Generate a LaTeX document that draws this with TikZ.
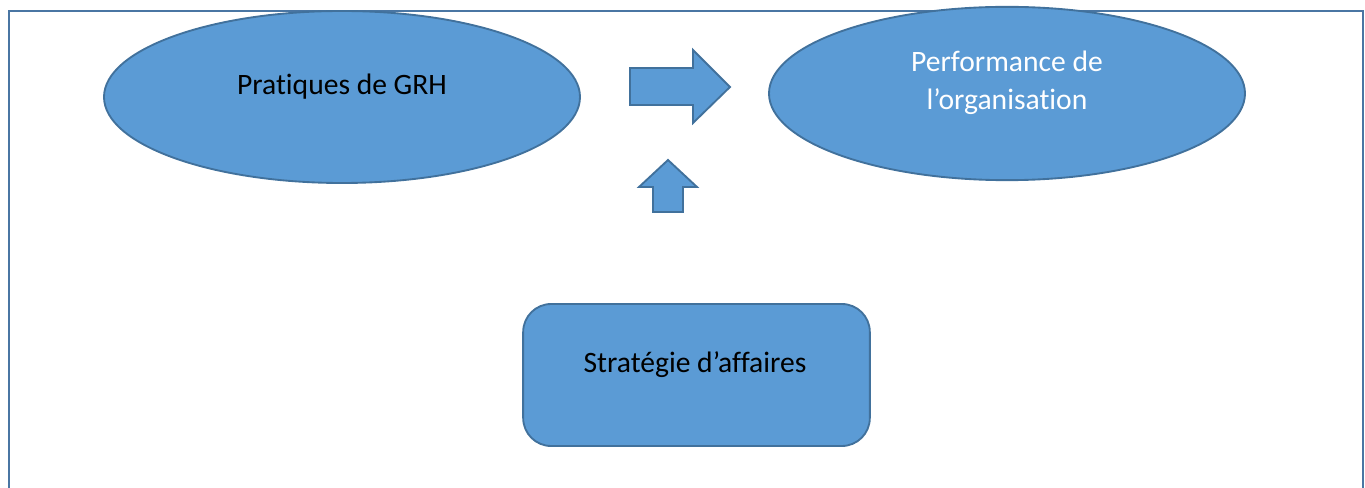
\documentclass[tikz,border=0pt]{standalone}
\usepackage{fontspec}
\setmainfont[Ligatures=NoCommon]{Carlito}
\usetikzlibrary{shapes.geometric}
\definecolor{fillblue}{HTML}{5B9BD5}
\definecolor{edgeblue}{HTML}{41719C}
\definecolor{frameblue}{HTML}{4A76A3}
\tikzset{
  shapebase/.style={fill=fillblue, draw=edgeblue, line width=1.4pt},
  ellipsebox/.style={shapebase, ellipse, minimum width=357pt, minimum height=129pt, inner sep=0pt},
  roundbox/.style={shapebase, rectangle, rounded corners=21pt, minimum width=260pt, minimum height=106.5pt, inner sep=0pt},
  blockarrow/.style={shapebase, line join=miter},
  lbl/.style={font=\fontsize{22.2}{28.5}\selectfont, inner sep=0pt, align=center},
}
\begin{document}
\begin{tikzpicture}[x=0.75pt, y=-0.75pt]
\useasboundingbox (0,0) rectangle (1365,488);
% frame
\coordinate (fbl) at (9,492);
\coordinate (ftl) at (9,11);
\coordinate (ftr) at (1363,11);
\coordinate (fbr) at (1363,492);
\draw[frameblue, line width=1.8pt] (fbl) -- (ftl) -- (ftr) -- (fbr);
% ellipses
\node[ellipsebox] (grh) at (342,97) {};
\node[ellipsebox, minimum height=130pt] (perf) at (1007,93.5) {};
\node[lbl, anchor=base] (grhtxt) at (342,95) {Pratiques de GRH};
\node[lbl, anchor=base, text=white] (perftxt) at (1007,110) {Performance de\\l’organisation};
% strategy box
\node[roundbox] (strat) at (696.5,375) {};
\node[lbl, anchor=base] (strattxt) at (695,373) {Stratégie d’affaires};
% right block arrow
\draw[blockarrow] (630,68) -- (693,68) -- (693,50) -- (730,87) -- (693,123) -- (693,105) -- (630,105) -- cycle;
% up block arrow
\draw[blockarrow] (668,160) -- (697,187) -- (683,187) -- (683,212) -- (653,212) -- (653,187) -- (639,187) -- cycle;
\end{tikzpicture}
\end{document}
